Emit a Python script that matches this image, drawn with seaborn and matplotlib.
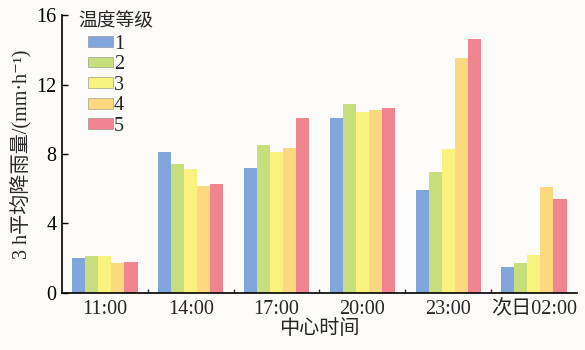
import numpy as np
import pandas as pd
import matplotlib
matplotlib.use("Agg")
import matplotlib.pyplot as plt
from matplotlib.ticker import FixedLocator
import seaborn as sns

# Center times and temperature levels
times = ["11:00", "14:00", "17:00", "20:00", "23:00", "次日02:00"]
levels = ["1", "2", "3", "4", "5"]

# 3-hour mean rainfall (mm/h) for each level at each center time
level1 = [2.0, 8.1, 7.2, 10.05, 5.95, 1.48]
level2 = [2.15, 7.42, 8.5, 10.9, 6.98, 1.75]
level3 = [2.1, 7.15, 8.13, 10.4, 8.27, 2.2]
level4 = [1.75, 6.16, 8.33, 10.55, 13.5, 6.12]
level5 = [1.8, 6.27, 10.1, 10.65, 14.62, 5.41]

colors = ["#80a6dc", "#c6de7c", "#f9f27e", "#fcd97e", "#f08590"]

rows = []
for lv, vals in zip(levels, [level1, level2, level3, level4, level5]):
    for t, v in zip(times, vals):
        rows.append({"time": t, "level": lv, "rain": v})
df = pd.DataFrame(rows)

sns.set_style("ticks")
plt.rcParams["font.family"] = ["Liberation Serif", "Noto Sans CJK SC", "DejaVu Serif"]

fig = plt.figure(figsize=(5.85, 3.5), dpi=100, facecolor="#fdfcfa")
ax = fig.add_axes([0.106, 0.163, 0.88, 0.794])
ax.set_facecolor("#fdfcfa")

sns.barplot(data=df, x="time", y="rain", hue="level", order=times,
            hue_order=levels, palette=colors, width=0.76, saturation=1,
            linewidth=0, ax=ax)

ax.set_ylim(0, 16)
ax.set_xlim(-0.5, len(times) - 0.5)
ax.set_yticks([0, 4, 8, 12, 16])
ax.tick_params(axis="y", direction="in", length=4, width=1, labelsize=14.5,
               colors="black", pad=4)
ax.tick_params(axis="x", which="major", length=0, labelsize=14.5, pad=5)
ax.xaxis.set_minor_locator(FixedLocator(np.arange(0.5, len(times) - 0.5, 1)))
ax.tick_params(axis="x", which="minor", direction="in", length=3, width=1)

for side in ["top", "right"]:
    ax.spines[side].set_visible(False)
for side in ["left", "bottom"]:
    ax.spines[side].set_color("black")
    ax.spines[side].set_linewidth(1.2)

ax.set_xlabel("中心时间", fontsize=14.5, labelpad=1)
ax.set_ylabel("3 h平均降雨量/(mm·h⁻¹)", fontsize=14.5, labelpad=3)

# Legend title drawn separately so the swatches sit indented beneath it
ax.text(0.031, 0.978, "温度等级", transform=ax.transAxes, fontsize=13.5,
        ha="left", va="center")
leg = ax.legend(loc="upper left", frameon=False,
                fontsize=14.5, handlelength=1.25,
                handleheight=0.45, handletextpad=0.05, labelspacing=0.08,
                borderaxespad=0.0, borderpad=0.0, bbox_to_anchor=(0.05, 0.93))
for h in leg.legend_handles:
    h.set_edgecolor((0.5, 0.5, 0.5, 0.6))
    h.set_linewidth(0.6)

fig.savefig("out.png", dpi=100, facecolor=fig.get_facecolor())
